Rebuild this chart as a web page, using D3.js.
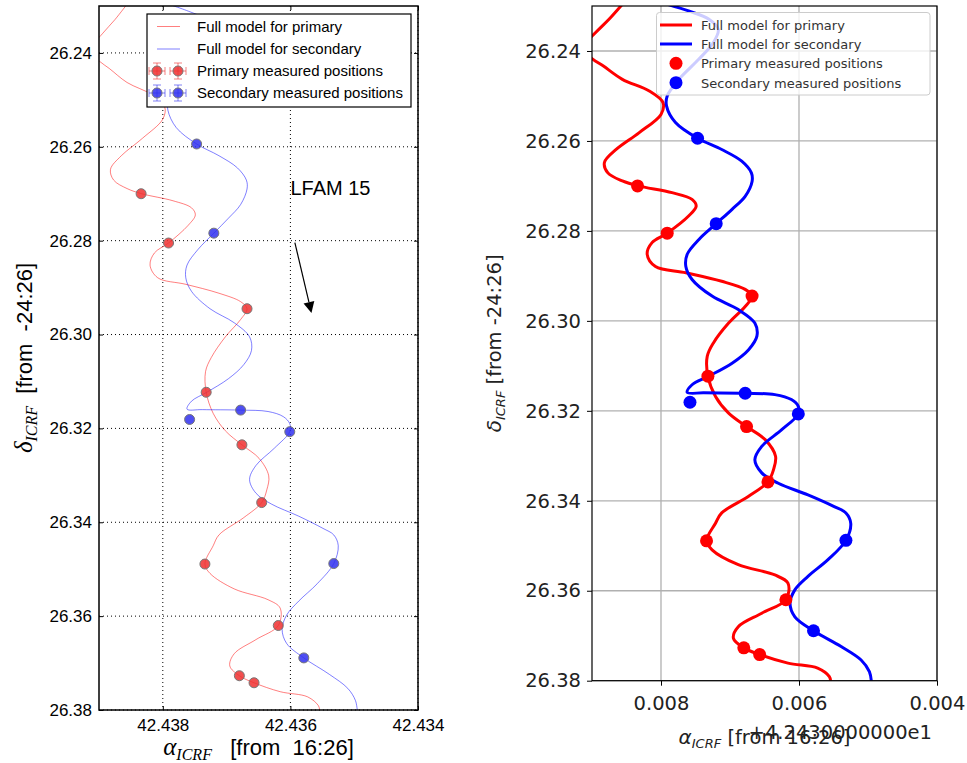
<!DOCTYPE html>
<html>
<head>
<meta charset="utf-8">
<script src="https://cdn.jsdelivr.net/npm/d3@7"></script>
<style>
  body { margin: 0; background: #fff; }
  svg { display: block; }
  text { white-space: pre; }
</style>
</head>
<body>
<svg id="fig" width="967" height="763"></svg>
<script>
// ---- Axis ranges and ticks -------------------------------------------------
const raDomain = [42.439, 42.434];          // right ascension decreases to the right
const decDomain = [26.23, 26.38];           // declination grows downward
const raTicks = [42.438, 42.436, 42.434];
const decTicks = [26.24, 26.26, 26.28, 26.30, 26.32, 26.34, 26.36, 26.38];
const raOffset = 42.43;
const raOffsetLabel = "+4.2430000000e1";

// ---- Measured positions ----------------------------------------------------
const primaryRA  = [42.43834, 42.43791, 42.43668, 42.43732, 42.43676, 42.43645, 42.43734, 42.43619, 42.43680, 42.43657];
const primaryDec = [26.2700, 26.2805, 26.2945, 26.3123, 26.3235, 26.3358, 26.3489, 26.3620, 26.3727, 26.3742];
const secondaryRA  = [42.43747, 42.43720, 42.43758, 42.43678, 42.43601, 42.43532, 42.43579];
const secondaryDec = [26.2594, 26.2784, 26.3181, 26.3161, 26.3207, 26.3488, 26.3689];

// ---- Full orbital + parallax model tracks ----------------------------------
const modelPrimaryRA = [42.43852, 42.43875, 42.43894, 42.43915, 42.43899, 42.43884, 42.43856, 42.43817, 42.43797, 42.43800,
  42.43832, 42.43865, 42.43882, 42.43877, 42.43856, 42.43833, 42.43784, 42.43755, 42.43749, 42.43760,
  42.43791, 42.43813, 42.43820, 42.43808, 42.43764, 42.43712, 42.43678, 42.43668, 42.43678, 42.43702,
  42.43724, 42.43733, 42.43732, 42.43721, 42.43702, 42.43676, 42.43649, 42.43634, 42.43637, 42.43645,
  42.43673, 42.43712, 42.43721, 42.43734, 42.43726, 42.43688, 42.43635, 42.43616, 42.43619, 42.43654,
  42.43688, 42.43695, 42.43680, 42.43657, 42.43616, 42.43573, 42.43556, 42.43554];
const modelPrimaryDec = [26.2289, 26.2329, 26.2358, 26.2396, 26.2418, 26.2433, 26.2463, 26.2489, 26.2515, 26.2541,
  26.2582, 26.2619, 26.2648, 26.2671, 26.2689, 26.2700, 26.2715, 26.2730, 26.2745, 26.2767,
  26.2805, 26.2826, 26.2852, 26.2879, 26.2893, 26.2912, 26.2930, 26.2945, 26.2968, 26.3005,
  26.3049, 26.3079, 26.3123, 26.3168, 26.3205, 26.3235, 26.3264, 26.3301, 26.3331, 26.3358,
  26.3390, 26.3427, 26.3450, 26.3489, 26.3509, 26.3542, 26.3565, 26.3583, 26.3620, 26.3650,
  26.3680, 26.3706, 26.3727, 26.3742, 26.3761, 26.3772, 26.3791, 26.3803];

const modelSecondaryRA = [42.43807, 42.43760, 42.43731, 42.43717, 42.43724, 42.43745, 42.43774, 42.43791, 42.43792, 42.43779,
  42.43747, 42.43712, 42.43683, 42.43669, 42.43668, 42.43678, 42.43697, 42.43720, 42.43745, 42.43762,
  42.43764, 42.43755, 42.43726, 42.43688, 42.43664, 42.43661, 42.43673, 42.43697, 42.43731, 42.43755,
  42.43762, 42.43738, 42.43678, 42.43635, 42.43611, 42.43601, 42.43601, 42.43625, 42.43654, 42.43664,
  42.43654, 42.43630, 42.43587, 42.43549, 42.43532, 42.43525, 42.43532, 42.43558, 42.43587, 42.43606,
  42.43613, 42.43606, 42.43579, 42.43539, 42.43510, 42.43498, 42.43495];
const modelSecondaryDec = [26.2289, 26.2311, 26.2329, 26.2352, 26.2381, 26.2418, 26.2463, 26.2500, 26.2522, 26.2559,
  26.2594, 26.2619, 26.2645, 26.2671, 26.2690, 26.2723, 26.2752, 26.2784, 26.2819, 26.2852,
  26.2879, 26.2908, 26.2945, 26.2975, 26.3005, 26.3034, 26.3064, 26.3094, 26.3123, 26.3142,
  26.3159, 26.3160, 26.3161, 26.3164, 26.3175, 26.3190, 26.3207, 26.3242, 26.3279, 26.3309,
  26.3338, 26.3361, 26.3387, 26.3413, 26.3427, 26.3450, 26.3488, 26.3531, 26.3568, 26.3598,
  26.3628, 26.3658, 26.3689, 26.3724, 26.3754, 26.3780, 26.3803];

// ---- Annotation ------------------------------------------------------------
const targetName = "LFAM 15";
const targetLabelRA = 42.436, targetLabelDec = 26.2702;
const motionArrowRA = [42.43593, 42.43567];
const motionArrowDec = [26.2804, 26.2954];

const legendLabels = ["Full model for primary", "Full model for secondary",
                      "Primary measured positions", "Secondary measured positions"];

// ---------------------------------------------------------------------------
const zip = (a, b) => a.map((v, i) => [v, b[i]]);
const modelPrimary = zip(modelPrimaryRA, modelPrimaryDec);
const modelSecondary = zip(modelSecondaryRA, modelSecondaryDec);
const primary = zip(primaryRA, primaryDec);
const secondary = zip(secondaryRA, secondaryDec);

const svg = d3.select("#fig");
svg.append("rect").attr("width", 967).attr("height", 763).attr("fill", "#fff");
const defs = svg.append("defs");

function clip(id, b) {
  defs.append("clipPath").attr("id", id).append("rect")
    .attr("x", b.left).attr("y", b.top)
    .attr("width", b.right - b.left).attr("height", b.bottom - b.top);
}

// =================== Left panel (classic style) ===================
(function () {
  const b = { left: 99, right: 418, top: 6, bottom: 710 };
  const x = d3.scaleLinear().domain(raDomain).range([b.left, b.right]);
  const y = d3.scaleLinear().domain(decDomain).range([b.top, b.bottom]);
  const g = svg.append("g");
  clip("clipL", b);
  const font = "'Liberation Sans', Arial, sans-serif";

  // dotted grid
  g.append("g").selectAll("line").data(raTicks).join("line")
    .attr("x1", d => x(d)).attr("x2", d => x(d)).attr("y1", b.top).attr("y2", b.bottom)
    .attr("stroke", "#000").attr("stroke-width", 1).attr("stroke-dasharray", "1,3");
  g.append("g").selectAll("line").data(decTicks).join("line")
    .attr("x1", b.left).attr("x2", b.right).attr("y1", d => y(d)).attr("y2", d => y(d))
    .attr("stroke", "#000").attr("stroke-width", 1).attr("stroke-dasharray", "1,3");

  // model tracks
  const line = d3.line().x(d => x(d[0])).y(d => y(d[1])).curve(d3.curveCatmullRom.alpha(0.5));
  const cg = g.append("g").attr("clip-path", "url(#clipL)");
  cg.append("path").attr("d", line(modelPrimary)).attr("fill", "none")
    .attr("stroke", "#ff0000").attr("stroke-opacity", 0.5).attr("stroke-width", 1);
  cg.append("path").attr("d", line(modelSecondary)).attr("fill", "none")
    .attr("stroke", "#0000ff").attr("stroke-opacity", 0.5).attr("stroke-width", 1);

  // measured points
  cg.append("g").selectAll("circle").data(primary).join("circle")
    .attr("cx", d => x(d[0])).attr("cy", d => y(d[1])).attr("r", 5)
    .attr("fill", "#ee3030").attr("fill-opacity", 0.85).attr("stroke", "#777").attr("stroke-width", 1);
  cg.append("g").selectAll("circle").data(secondary).join("circle")
    .attr("cx", d => x(d[0])).attr("cy", d => y(d[1])).attr("r", 5)
    .attr("fill", "#3030ee").attr("fill-opacity", 0.85).attr("stroke", "#777").attr("stroke-width", 1);

  // axes: inward ticks on all sides
  const styleAxis = sel => {
    sel.select(".domain").remove();
    sel.selectAll("line").attr("stroke", "#000");
    sel.selectAll("text").attr("font-family", font).attr("font-size", 17).attr("fill", "#000");
  };
  g.append("g").attr("transform", `translate(0,${b.bottom})`)
    .call(d3.axisBottom(x).tickValues(raTicks).tickFormat(d3.format(".3f")).tickSizeInner(-4).tickSizeOuter(0).tickPadding(9))
    .call(styleAxis);
  g.append("g").attr("transform", `translate(0,${b.top})`)
    .call(d3.axisTop(x).tickValues(raTicks).tickFormat("").tickSizeInner(-4).tickSizeOuter(0))
    .call(styleAxis);
  g.append("g").attr("transform", `translate(${b.left},0)`)
    .call(d3.axisLeft(y).tickValues(decTicks).tickFormat(d3.format(".2f")).tickSizeInner(-4).tickSizeOuter(0).tickPadding(7))
    .call(styleAxis);
  g.append("g").attr("transform", `translate(${b.right},0)`)
    .call(d3.axisRight(y).tickValues(decTicks).tickFormat("").tickSizeInner(-4).tickSizeOuter(0))
    .call(styleAxis);

  // frame
  g.append("rect").attr("x", b.left).attr("y", b.top)
    .attr("width", b.right - b.left).attr("height", b.bottom - b.top)
    .attr("fill", "none").attr("stroke", "#000").attr("stroke-width", 1.5);

  // target name and motion arrow
  g.append("text").attr("x", x(targetLabelRA)).attr("y", y(targetLabelDec))
    .attr("font-family", font).attr("font-size", 20).text(targetName);
  const p0 = [x(motionArrowRA[0]), y(motionArrowDec[0])];
  const p1 = [x(motionArrowRA[1]), y(motionArrowDec[1])];
  const ang = Math.atan2(p1[1] - p0[1], p1[0] - p0[0]);
  const hl = 11, hw = 5.5;
  const base = [p1[0] - hl * Math.cos(ang), p1[1] - hl * Math.sin(ang)];
  g.append("line").attr("x1", p0[0]).attr("y1", p0[1]).attr("x2", base[0]).attr("y2", base[1])
    .attr("stroke", "#000").attr("stroke-width", 1.2);
  g.append("path").attr("fill", "#000").attr("d", d3.line()([
    p1,
    [base[0] + hw * Math.sin(ang), base[1] - hw * Math.cos(ang)],
    [base[0] - hw * Math.sin(ang), base[1] + hw * Math.cos(ang)]
  ]) + "Z");

  // legend
  const lg = g.append("g");
  lg.append("rect").attr("x", 147).attr("y", 14).attr("width", 264).attr("height", 93)
    .attr("fill", "#fff").attr("stroke", "#000").attr("stroke-width", 1.2);
  const rows = [26.5, 49, 71, 93];
  lg.append("line").attr("x1", 157).attr("x2", 180).attr("y1", rows[0]).attr("y2", rows[0])
    .attr("stroke", "#ff0000").attr("stroke-opacity", 0.5);
  lg.append("line").attr("x1", 157).attr("x2", 180).attr("y1", rows[1]).attr("y2", rows[1])
    .attr("stroke", "#0000ff").attr("stroke-opacity", 0.5);
  const errMarker = (cx, cy, col) => {
    const e = lg.append("g").attr("stroke", col).attr("stroke-opacity", 0.6).attr("stroke-width", 1);
    e.append("line").attr("x1", cx - 8).attr("x2", cx + 8).attr("y1", cy).attr("y2", cy);
    e.append("line").attr("x1", cx - 8).attr("x2", cx - 8).attr("y1", cy - 4).attr("y2", cy + 4);
    e.append("line").attr("x1", cx + 8).attr("x2", cx + 8).attr("y1", cy - 4).attr("y2", cy + 4);
    e.append("line").attr("x1", cx).attr("x2", cx).attr("y1", cy - 8).attr("y2", cy + 8);
    e.append("line").attr("x1", cx - 4).attr("x2", cx + 4).attr("y1", cy - 8).attr("y2", cy - 8);
    e.append("line").attr("x1", cx - 4).attr("x2", cx + 4).attr("y1", cy + 8).attr("y2", cy + 8);
    lg.append("circle").attr("cx", cx).attr("cy", cy).attr("r", 5)
      .attr("fill", col).attr("fill-opacity", 0.85).attr("stroke", "#777");
  };
  errMarker(157, rows[2], "#ee3030"); errMarker(178, rows[2], "#ee3030");
  errMarker(157, rows[3], "#3030ee"); errMarker(178, rows[3], "#3030ee");
  lg.selectAll("text").data(legendLabels).join("text")
    .attr("x", 197).attr("y", (d, i) => rows[i] + 5)
    .attr("font-family", font).attr("font-size", 15).attr("fill", "#000").text(d => d);

  // axis labels
  const serif = "'Liberation Serif', 'DejaVu Serif', serif";
  const xl = g.append("text").attr("x", (b.left + b.right) / 2).attr("y", 755)
    .attr("text-anchor", "middle").attr("fill", "#000");
  xl.append("tspan").attr("font-family", serif).attr("font-style", "italic").attr("font-size", 25).text("α");
  xl.append("tspan").attr("font-family", serif).attr("font-style", "italic").attr("font-size", 16).attr("dy", 5).text("ICRF");
  xl.append("tspan").attr("font-family", font).attr("font-size", 22).attr("dy", -5).text("   [from  16:26]");

  const yl = g.append("text").attr("transform", `translate(32,${(b.top + b.bottom) / 2}) rotate(-90)`)
    .attr("text-anchor", "middle").attr("fill", "#000");
  yl.append("tspan").attr("font-family", serif).attr("font-style", "italic").attr("font-size", 25).text("δ");
  yl.append("tspan").attr("font-family", serif).attr("font-style", "italic").attr("font-size", 16).attr("dy", 5).text("ICRF");
  yl.append("tspan").attr("font-family", font).attr("font-size", 22).attr("dy", -5).text("  [from  -24:26]");
})();

// =================== Right panel (default style) ===================
(function () {
  const b = { left: 592, right: 937, top: 6, bottom: 680.7 };
  const x = d3.scaleLinear().domain(raDomain).range([b.left, b.right]);
  const y = d3.scaleLinear().domain(decDomain).range([b.top, b.bottom]);
  const g = svg.append("g");
  clip("clipR", b);
  const font = "'DejaVu Sans', sans-serif";

  // solid grid
  g.append("g").selectAll("line").data(raTicks).join("line")
    .attr("x1", d => x(d)).attr("x2", d => x(d)).attr("y1", b.top).attr("y2", b.bottom)
    .attr("stroke", "#b0b0b0").attr("stroke-width", 1.3);
  g.append("g").selectAll("line").data(decTicks).join("line")
    .attr("x1", b.left).attr("x2", b.right).attr("y1", d => y(d)).attr("y2", d => y(d))
    .attr("stroke", "#b0b0b0").attr("stroke-width", 1.3);

  const line = d3.line().x(d => x(d[0])).y(d => y(d[1])).curve(d3.curveCatmullRom.alpha(0.5));
  const cg = g.append("g").attr("clip-path", "url(#clipR)");
  cg.append("path").attr("d", line(modelPrimary)).attr("fill", "none")
    .attr("stroke", "#ff0000").attr("stroke-width", 3);
  cg.append("path").attr("d", line(modelSecondary)).attr("fill", "none")
    .attr("stroke", "#0000ff").attr("stroke-width", 3);
  cg.append("g").selectAll("circle").data(primary).join("circle")
    .attr("cx", d => x(d[0])).attr("cy", d => y(d[1])).attr("r", 6.5).attr("fill", "#ff0000");
  cg.append("g").selectAll("circle").data(secondary).join("circle")
    .attr("cx", d => x(d[0])).attr("cy", d => y(d[1])).attr("r", 6.5).attr("fill", "#0000ff");

  const styleAxis = sel => {
    sel.select(".domain").remove();
    sel.selectAll("line").attr("stroke", "#000").attr("stroke-width", 1);
    sel.selectAll("text").attr("font-family", font).attr("font-size", 19.5).attr("fill", "#222");
  };
  g.append("g").attr("transform", `translate(0,${b.bottom})`)
    .call(d3.axisBottom(x).tickValues(raTicks).tickFormat(d => d3.format(".3f")(d - raOffset)).tickSize(5).tickPadding(10))
    .call(styleAxis);
  g.append("g").attr("transform", `translate(${b.left},0)`)
    .call(d3.axisLeft(y).tickValues(decTicks).tickFormat(d3.format(".2f")).tickSize(5).tickPadding(6))
    .call(styleAxis);

  g.append("rect").attr("x", b.left).attr("y", b.top)
    .attr("width", b.right - b.left).attr("height", b.bottom - b.top)
    .attr("fill", "none").attr("stroke", "#000").attr("stroke-width", 1.2);

  // legend
  const lg = g.append("g");
  lg.append("rect").attr("x", 656.5).attr("y", 12.5).attr("width", 273.5).attr("height", 82.5).attr("rx", 3)
    .attr("fill", "#fff").attr("fill-opacity", 0.8).attr("stroke", "#cccccc");
  const rows = [25, 44, 63.3, 82.7];
  lg.append("line").attr("x1", 660).attr("x2", 692).attr("y1", rows[0]).attr("y2", rows[0])
    .attr("stroke", "#ff0000").attr("stroke-width", 3);
  lg.append("line").attr("x1", 660).attr("x2", 692).attr("y1", rows[1]).attr("y2", rows[1])
    .attr("stroke", "#0000ff").attr("stroke-width", 3);
  lg.append("circle").attr("cx", 676).attr("cy", rows[2]).attr("r", 6.5).attr("fill", "#ff0000");
  lg.append("circle").attr("cx", 676).attr("cy", rows[3]).attr("r", 6.5).attr("fill", "#0000ff");
  lg.selectAll("text").data(legendLabels).join("text")
    .attr("x", 701).attr("y", (d, i) => rows[i] + 5)
    .attr("font-family", font).attr("font-size", 13).attr("fill", "#333").text(d => d);

  // offset text and axis labels
  g.append("text").attr("x", 932).attr("y", 739).attr("text-anchor", "end")
    .attr("font-family", font).attr("font-size", 19.5).attr("fill", "#222").text(raOffsetLabel);
  const xl = g.append("text").attr("x", (b.left + b.right) / 2).attr("y", 744)
    .attr("text-anchor", "middle").attr("fill", "#222").attr("font-family", font);
  xl.append("tspan").attr("font-style", "italic").attr("font-size", 20).text("α");
  xl.append("tspan").attr("font-style", "italic").attr("font-size", 13).attr("dy", 4).text("ICRF");
  xl.append("tspan").attr("font-size", 19.5).attr("dy", -4).text(" [from 16:26]");

  const yl = g.append("text").attr("transform", `translate(501,${(b.top + b.bottom) / 2}) rotate(-90)`)
    .attr("text-anchor", "middle").attr("fill", "#222").attr("font-family", font);
  yl.append("tspan").attr("font-style", "italic").attr("font-size", 20).text("δ");
  yl.append("tspan").attr("font-style", "italic").attr("font-size", 13).attr("dy", 4).text("ICRF");
  yl.append("tspan").attr("font-size", 19.5).attr("dy", -4).text(" [from -24:26]");
})();
</script>
</body>
</html>
